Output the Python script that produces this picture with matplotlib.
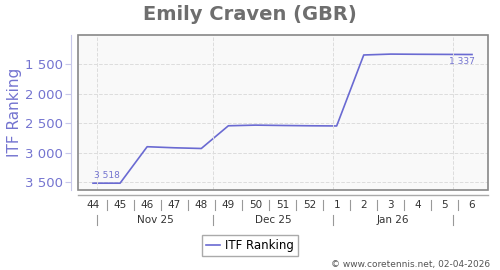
import matplotlib.pyplot as plt
import matplotlib.transforms as mtransforms
from matplotlib.patches import Rectangle
import pandas as pd

# veriler
weeks = ["44", "45", "46", "47", "48", "49", "50", "51", "52", "1", "2", "3", "4", "5", "6"]
ranking = [3518, 3518, 2900, 2918, 2930, 2545, 2534, 2540, 2545, 2548, 1345, 1330, 1333, 1335, 1337]
months = ["Nov 25", "Dec 25", "Jan 26"]
first_day = "2025-10-31"

dates = pd.date_range(first_day, periods=len(weeks), freq="7D")
x = [(d - dates[0]).days / 7 for d in dates]
month_starts = [(pd.Timestamp(m) - dates[0]).days / 7 for m in ["2025-11-01", "2025-12-01", "2026-01-01", "2026-02-01"]]

line_col = "#6a6ad2"
lab_col = "#7474d0"

fig = plt.figure(figsize=(5, 2.7), dpi=100)
ax = fig.add_axes([0.156, 0.296, 0.82, 0.574])
ax.set_facecolor("#f9f9f9")

ax.plot(x, ranking, color=line_col, lw=1.2, label="ITF Ranking")
ax.text(x[0] + 0.5, ranking[0] - 60, "3 518", color=lab_col, fontsize=6.5, ha="center", va="bottom")
ax.text(x[-1] - 0.37, ranking[-1] + 50, "1 337", color=lab_col, fontsize=6.5, ha="center", va="top")

ax.set_xlim(-0.554, 14.59)
ax.set_ylim(3635, 1008)
ax.set_yticks([1500, 2000, 2500, 3000, 3500])
ax.set_yticklabels(["1 500", "2 000", "2 500", "3 000", "3 500"])
ax.grid(axis="y", color="#dddddd", ls="--", lw=0.7)
for m in month_starts:
    ax.axvline(m, color="#dddddd", ls="--", lw=0.7)
ax.set_xticks([])

for s in ["top", "right", "bottom"]:
    ax.spines[s].set_visible(False)
ax.spines["left"].set_position(("outward", 5))
ax.spines["left"].set_color("#c8c8ea")
ax.add_patch(Rectangle((0, 0), 1, 1, transform=ax.transAxes, fill=False,
                       edgecolor="#888888", lw=1.2, clip_on=False, zorder=5))
ax.tick_params(axis="y", colors="#c8c8ea", labelcolor=lab_col, labelsize=9.5, length=4, pad=2)
ax.set_ylabel("ITF Ranking", color=lab_col, fontsize=11)
ax.yaxis.set_label_coords(-0.137, 0.5)

# alt eksen: hafta ve ay etiketleri
tr = mtransforms.blended_transform_factory(ax.transData, ax.transAxes)
ax.plot([-0.554, 14.59], [-0.032, -0.032], transform=tr, color="#aaaaaa", lw=1, clip_on=False)
for xi, w in zip(x, weeks):
    ax.text(xi, -0.097, w, transform=tr, ha="center", va="center", fontsize=7.5, color="#333333")
for i in range(len(x) - 1):
    mid = (x[i] + x[i + 1]) / 2
    ax.plot([mid, mid], [-0.065, -0.129], transform=tr, color="#999999", lw=0.8, clip_on=False)
for m in month_starts:
    ax.plot([m, m], [-0.161, -0.226], transform=tr, color="#999999", lw=0.8, clip_on=False)
for a, b, name in zip(month_starts[:-1], month_starts[1:], months):
    ax.text((a + b) / 2, -0.194, name, transform=tr, ha="center", va="center", fontsize=7.5, color="#333333")

fig.text(0.5, 0.948, "Emily Craven (GBR)", ha="center", va="center", fontsize=14,
         fontweight="bold", color="#6e6e6e")
leg = fig.legend(loc="center", bbox_to_anchor=(0.5, 0.091), fontsize=8.5, fancybox=False,
                 handlelength=1.2, handletextpad=0.4, borderpad=0.35, framealpha=1)
leg.get_frame().set_edgecolor("#aaaaaa")
fig.text(0.98, 0.022, "© www.coretennis.net, 02-04-2026", ha="right", va="center",
         fontsize=6.5, color="#555555")

fig.savefig("out.png", dpi=100)
